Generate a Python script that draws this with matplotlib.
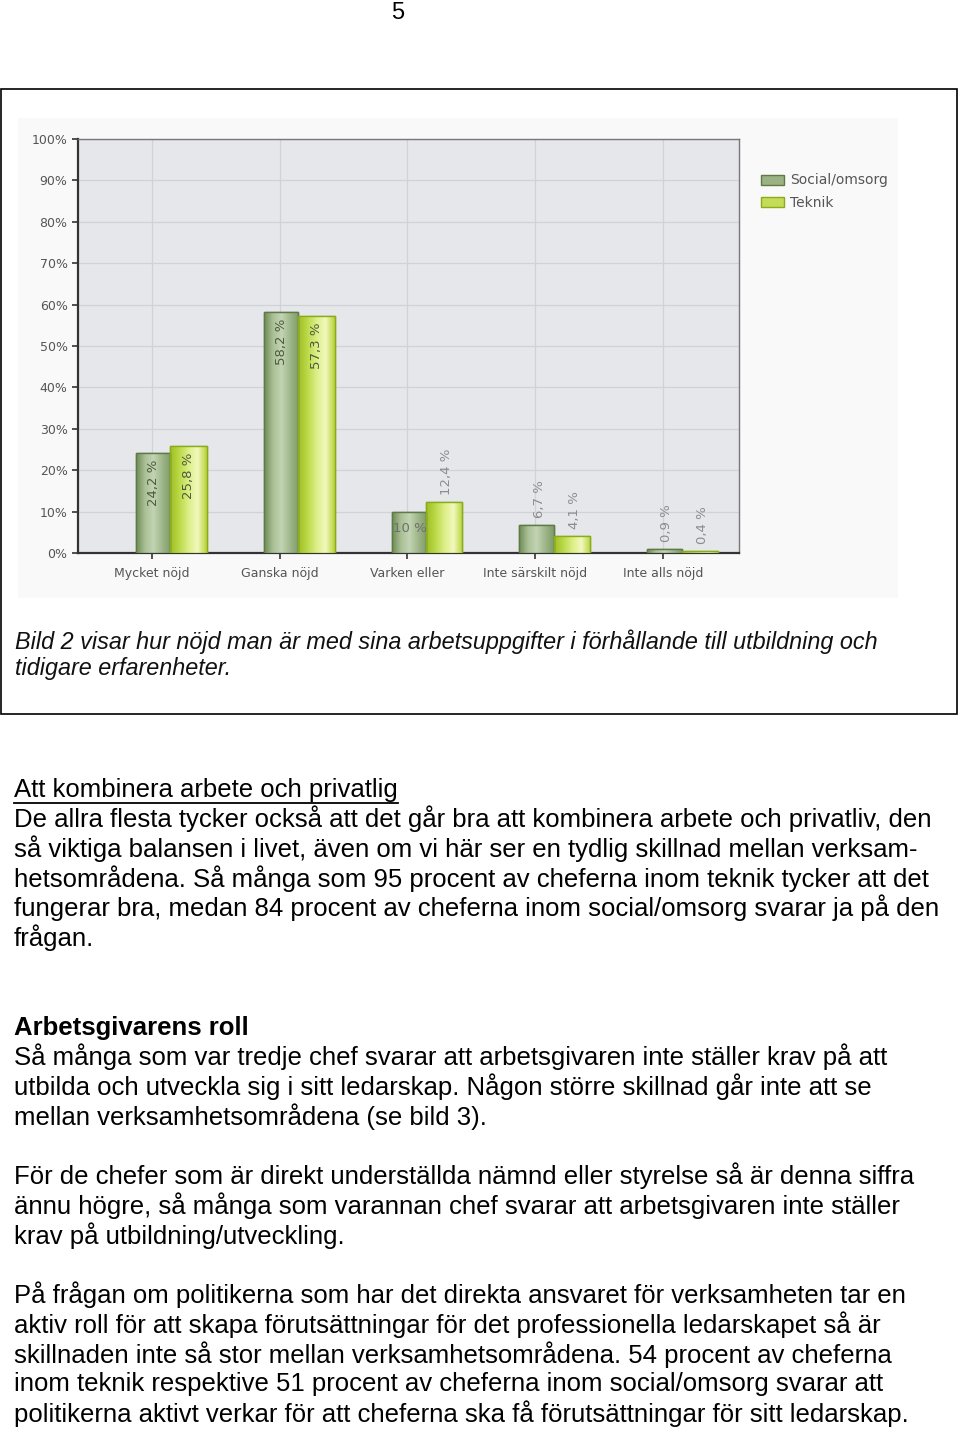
import numpy as np
import matplotlib
matplotlib.use("Agg")
import matplotlib.pyplot as plt
from matplotlib.colors import LinearSegmentedColormap
from matplotlib.patches import Rectangle
from matplotlib.lines import Line2D

# chart data
CATEGORIES = ["Mycket nöjd", "Ganska nöjd", "Varken eller", "Inte särskilt nöjd", "Inte alls nöjd"]
SOCIAL = [24.2, 58.2, 10.0, 6.7, 0.9]
TEKNIK = [25.8, 57.3, 12.4, 4.1, 0.4]
SERIES_NAMES = ["Social/omsorg", "Teknik"]
Y_TICKS = list(range(0, 101, 10))

# how each value label is placed: inside bar, above bar, or flat inside
SOCIAL_MODE = ["in", "in", "flat", "above", "above"]
TEKNIK_MODE = ["in", "in", "above", "above", "above"]

PAGE_NUMBER = "5"
CAPTION = [
    "Bild 2 visar hur nöjd man är med sina arbetsuppgifter i förhållande till utbildning och",
    "tidigare erfarenheter.",
]
HEADING_1 = "Att kombinera arbete och privatlig"
PARA_1 = [
    "De allra flesta tycker också att det går bra att kombinera arbete och privatliv, den",
    "så viktiga balansen i livet, även om vi här ser en tydlig skillnad mellan verksam-",
    "hetsområdena. Så många som 95 procent av cheferna inom teknik tycker att det",
    "fungerar bra, medan 84 procent av cheferna inom social/omsorg svarar ja på den",
    "frågan.",
]
HEADING_2 = "Arbetsgivarens roll"
PARA_2 = [
    "Så många som var tredje chef svarar att arbetsgivaren inte ställer krav på att",
    "utbilda och utveckla sig i sitt ledarskap. Någon större skillnad går inte att se",
    "mellan verksamhetsområdena (se bild 3).",
]
PARA_3 = [
    "För de chefer som är direkt underställda nämnd eller styrelse så är denna siffra",
    "ännu högre, så många som varannan chef svarar att arbetsgivaren inte ställer",
    "krav på utbildning/utveckling.",
]
PARA_4 = [
    "På frågan om politikerna som har det direkta ansvaret för verksamheten tar en",
    "aktiv roll för att skapa förutsättningar för det professionella ledarskapet så är",
    "skillnaden inte så stor mellan verksamhetsområdena. 54 procent av cheferna",
    "inom teknik respektive 51 procent av cheferna inom social/omsorg svarar att",
    "politikerna aktivt verkar för att cheferna ska få förutsättningar för sitt ledarskap.",
]

W, H = 960, 1429


def fx(x):
    return x / W


def fy(y):
    return 1 - y / H


def fmt(v):
    if float(v).is_integer():
        return f"{int(v)} %"
    return f"{v:.1f}".replace(".", ",") + " %"


fig = plt.figure(figsize=(W / 100, H / 100), dpi=100)
fig.patch.set_facecolor("white")

# frame around chart + caption
fig.add_artist(Rectangle((fx(1), fy(714)), fx(956), (714 - 89) / H, transform=fig.transFigure,
                         fill=False, edgecolor="black", linewidth=1.2))
# faint chart panel
fig.add_artist(Rectangle((fx(18), fy(598)), fx(880), (598 - 118) / H, transform=fig.transFigure,
                         facecolor="#f9f9f9", edgecolor="none", zorder=0))

ax = fig.add_axes([fx(78), fy(553), fx(661), (553 - 139) / H])
ax.set_facecolor("#e5e7ea")

idx = np.arange(len(CATEGORIES))
soc_color, tek_color = "#9bb285", "#c5dc58"
soc_edge, tek_edge = "#5f7a45", "#8aab1c"
soc_cmap = LinearSegmentedColormap.from_list("soc", ["#6e8c55", "#a9bf95", "#c3d4b4", "#9fb78a", "#809c68"])
tek_cmap = LinearSegmentedColormap.from_list("tek", ["#9fbf24", "#bcd948", "#dcee86", "#f2f9be", "#b8d33c"])

soc_bars = ax.bar(idx - 0.125, SOCIAL, width=0.27, align="edge", color=soc_color,
                  edgecolor=soc_edge, linewidth=1.0, zorder=3, label=SERIES_NAMES[0])
tek_bars = ax.bar(idx + 0.145, TEKNIK, width=0.285, align="edge", color=tek_color,
                  edgecolor=tek_edge, linewidth=1.0, zorder=3, label=SERIES_NAMES[1])

grad = np.linspace(0, 1, 64).reshape(1, -1)
for bars, cmap, edge in ((soc_bars, soc_cmap, soc_edge), (tek_bars, tek_cmap, tek_edge)):
    for rect in bars:
        x0, w, h = rect.get_x(), rect.get_width(), rect.get_height()
        im = ax.imshow(grad, extent=[x0, x0 + w, 0, h], aspect="auto", cmap=cmap, zorder=3.5)
        im.set_clip_path(rect)
        ax.add_patch(Rectangle((x0, 0), w, h, fill=False, edgecolor=edge, linewidth=1.0, zorder=4))

ax.set_xlim(-0.579, 4.595)
ax.set_ylim(0, 100)

# value labels
for bars, vals, modes in ((soc_bars, SOCIAL, SOCIAL_MODE), (tek_bars, TEKNIK, TEKNIK_MODE)):
    for rect, v, mode in zip(bars, vals, modes):
        cx = rect.get_x() + rect.get_width() / 2
        if mode == "in":
            ax.text(cx, v - 1.6, fmt(v), rotation=90, ha="center", va="top",
                    fontsize=9.5, color="#4c5a3c", zorder=5)
        elif mode == "above":
            ax.text(cx + 0.02, v + 1.7, fmt(v), rotation=90, ha="center", va="bottom",
                    fontsize=9.5, color="#8c8c8c", zorder=5)
        else:
            ax.text(rect.get_x() + 0.01, v * 0.6, fmt(v), ha="left", va="center",
                    fontsize=9.5, color="#6f6f6f", zorder=5)

ax.set_yticks(Y_TICKS)
ax.set_yticklabels([f"{t}%" for t in Y_TICKS])
ax.set_xticks(idx)
ax.set_xticklabels(CATEGORIES)
ax.tick_params(axis="both", colors="#333333", labelcolor="#555555", labelsize=9, length=4, width=1.2)
ax.tick_params(axis="x", pad=6)
ax.grid(True, color="#cfd2d6", linewidth=0.9, zorder=0)
ax.set_axisbelow(True)
for side in ("left", "bottom"):
    ax.spines[side].set_color("#333333")
    ax.spines[side].set_linewidth(1.6)
for side in ("top", "right"):
    ax.spines[side].set_color("#777777")
    ax.spines[side].set_linewidth(1.0)

leg = fig.legend(handles=[soc_bars, tek_bars], labels=SERIES_NAMES, loc="upper left",
                 bbox_to_anchor=(fx(748), fy(161)), frameon=False, fontsize=10,
                 handlelength=1.7, handleheight=0.75, handletextpad=0.45, labelspacing=0.6)
for t in leg.get_texts():
    t.set_color("#555555")

# page text
BODY = ["Liberation Sans", "DejaVu Sans"]
fig.text(fx(398), fy(13), PAGE_NUMBER, ha="center", va="center", fontsize=17, family=BODY)

for i, line in enumerate(CAPTION):
    fig.text(fx(15), fy(642 + 27 * i), line, ha="left", va="center", fontsize=16.8,
             style="italic", family=BODY, color="#111111")

fs = 18.5
h1 = fig.text(fx(14), fy(790), HEADING_1, ha="left", va="center", fontsize=fs, family=BODY)


def para(lines, y0, step=29.7):
    for i, line in enumerate(lines):
        fig.text(fx(14), fy(y0 + step * i), line, ha="left", va="center", fontsize=fs, family=BODY)


para(PARA_1, 819)
fig.text(fx(14), fy(1028), HEADING_2, ha="left", va="center", fontsize=fs, family=BODY, weight="bold")
para(PARA_2, 1057)
para(PARA_3, 1176)
para(PARA_4, 1295)

# underline heading 1
renderer = fig.canvas.get_renderer()
bb = h1.get_window_extent(renderer)
fig.add_artist(Line2D([bb.x0 / W, bb.x1 / W], [fy(803), fy(803)], transform=fig.transFigure,
                      color="black", linewidth=1.3))

fig.savefig("out.png", dpi=100)
